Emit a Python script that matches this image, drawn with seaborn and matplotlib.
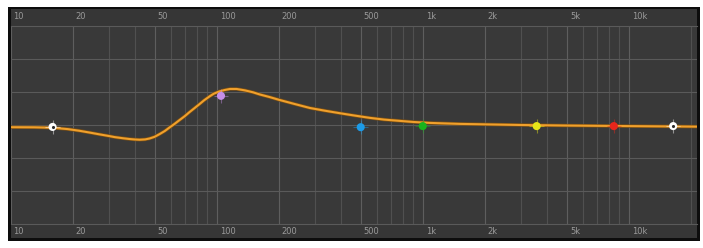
import matplotlib
matplotlib.use("Agg")
import matplotlib.pyplot as plt
import matplotlib.patheffects as pe
import seaborn as sns
import pandas as pd
import numpy as np

# ---- data ----
curve_freq = [10, 13, 16, 19, 21.6, 24, 27, 30, 32, 35, 37.8, 40, 42.3, 45, 47.3, 50, 52.9,
              56, 59.1, 62.5, 66.1, 70, 73.9, 78, 82.6, 87, 92.4, 97, 103, 109, 116, 125,
              137, 150, 162, 180, 202, 240, 283, 335, 395, 470, 553, 650, 773, 900, 1081,
              1300, 1514, 1800, 2115, 3000, 5000, 10000, 22000]
curve_gain = [-0.4, -0.42, -0.5, -0.75, -1.05, -1.35, -1.7, -2.0, -2.2, -2.4, -2.55, -2.63,
              -2.68, -2.62, -2.45, -2.15, -1.65, -1.1, -0.45, 0.2, 0.9, 1.6, 2.35, 3.05, 3.8,
              4.5, 5.2, 5.7, 6.1, 6.35, 6.55, 6.55, 6.3, 5.95, 5.55, 5.1, 4.55, 3.8, 3.1,
              2.6, 2.15, 1.7, 1.3, 0.98, 0.75, 0.55, 0.38, 0.28, 0.2, 0.15, 0.1, 0.0, -0.1,
              -0.2, -0.3]

band_freq = [16, 105, 500, 1000, 3570, 8450, 16400]
band_gain = [-0.35, 5.3, -0.4, -0.2, -0.2, -0.2, -0.2]
band_color = ["#ffffff", "#c58ee8", "#1c9be8", "#19b31c", "#e6e619", "#e8261c", "#ffffff"]

tick_freq = [10, 20, 50, 100, 200, 500, 1000, 2000, 5000, 10000]
tick_labels = ["10", "20", "50", "100", "200", "500", "1k", "2k", "5k", "10k"]

grid_gain = [-12, -6, 0, 6, 12]

curve_df = pd.DataFrame({"freq": curve_freq, "gain": curve_gain})
band_df = pd.DataFrame({"freq": band_freq, "gain": band_gain, "color": band_color})

# ---- figure ----
W, H = 703, 248
fig = plt.figure(figsize=(W / 100, H / 100), dpi=100, facecolor="white")

def px_axes(x0, y0, x1, y1):
    return fig.add_axes([x0 / W, (H - y1) / H, (x1 - x0) / W, (y1 - y0) / H])

frame_ax = px_axes(8, 6.5, 700, 241)
frame_ax.set_facecolor("#0d0d0d")
frame_ax.set_xticks([]); frame_ax.set_yticks([])
for s in frame_ax.spines.values():
    s.set_visible(False)

band_ax = px_axes(10.5, 9, 697, 238)
band_ax.set_facecolor("#363636")
band_ax.set_xticks([]); band_ax.set_yticks([])
for s in band_ax.spines.values():
    s.set_visible(False)

ax = px_axes(10.5, 26, 697, 224)
ax.set_facecolor("#393939")
ax.set_xscale("log")
ax.set_xlim(10, 21400)
ax.set_ylim(-18, 18)

# grid
ax.set_xticks(tick_freq)
ax.xaxis.set_minor_locator(matplotlib.ticker.LogLocator(base=10, subs=np.arange(2, 10)))
ax.set_yticks(grid_gain)
ax.grid(True, which="major", axis="x", color="#5e5e5e", linewidth=0.8)
ax.grid(True, which="minor", axis="x", color="#505050", linewidth=0.8)
ax.grid(True, which="major", axis="y", color="#5a5a5a", linewidth=0.8)
ax.tick_params(which="both", length=0, labelbottom=False, labelleft=False)
for side in ["left", "right"]:
    ax.spines[side].set_visible(False)
for side in ["top", "bottom"]:
    ax.spines[side].set_color("#5a5a5a")
    ax.spines[side].set_linewidth(0.8)

# curve
sns.lineplot(data=curve_df, x="freq", y="gain", ax=ax, color="#f0a02c", linewidth=1.5,
             zorder=4, legend=False, sort=True,
             path_effects=[pe.Stroke(linewidth=2.5, foreground="#7a4e12"), pe.Normal()])

# band handles
pal = dict(zip(band_color, band_color))
sns.scatterplot(data=band_df, x="freq", y="gain", hue="color", palette=pal,
                marker="+", s=110, linewidth=0.8, alpha=0.45, ax=ax, legend=False, zorder=5)
sns.scatterplot(data=band_df, x="freq", y="gain", hue="color", palette=pal,
                s=34, linewidth=0, ax=ax, legend=False, zorder=6)
white_df = band_df[band_df["color"] == "#ffffff"]
sns.scatterplot(data=white_df, x="freq", y="gain", color="#2a2a2a", s=5, linewidth=0,
                ax=ax, legend=False, zorder=7)

ax.set_xlabel("")
ax.set_ylabel("")

# frequency labels in top and bottom bands
trans = matplotlib.transforms.blended_transform_factory(ax.transData, ax.transAxes)
for f, lab in zip(tick_freq, tick_labels):
    for yy in (1.046, -0.036):
        ax.annotate(lab, xy=(f, yy), xycoords=trans, xytext=(2.2, 0), textcoords="offset points",
                    ha="left", va="center", fontsize=6, color="#9a9a9a",
                    annotation_clip=False)

fig.savefig("out.png", dpi=100, facecolor="white")
